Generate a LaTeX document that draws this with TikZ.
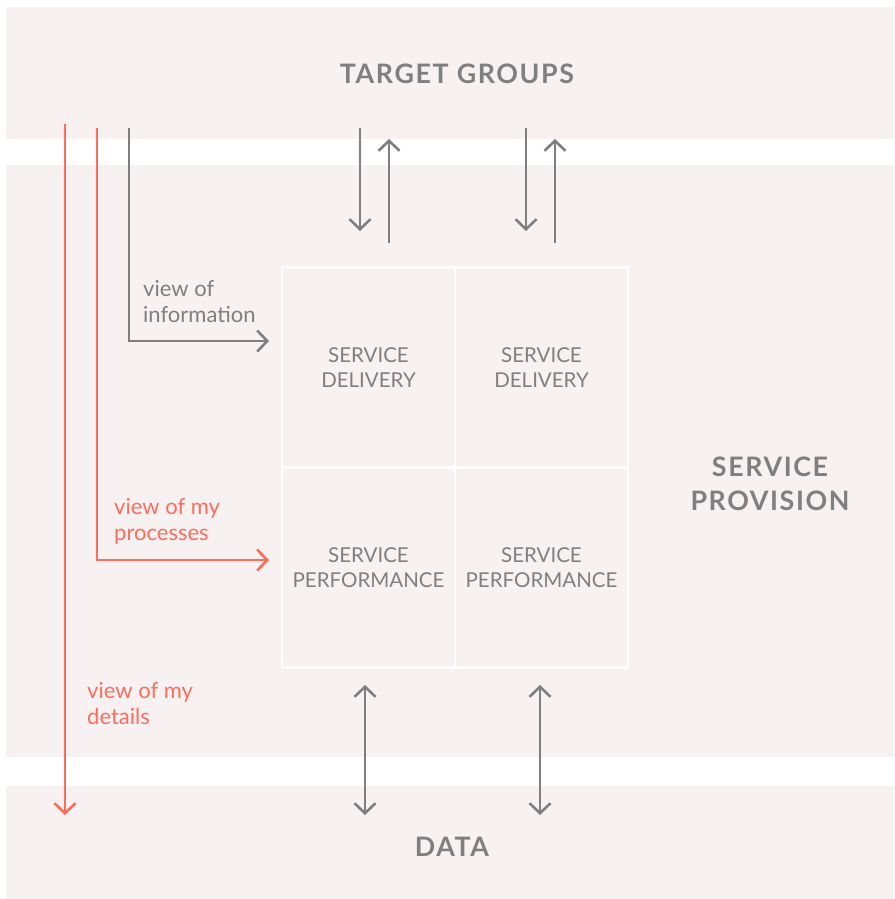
\documentclass[tikz,border=0pt]{standalone}
\usepackage{fontspec}
\setmainfont{Lato}
\newfontfamily\headfont{Lato}[LetterSpace=6]
\usetikzlibrary{arrows.meta}

\definecolor{bandbg}{HTML}{F7F1F1}
\definecolor{ink}{HTML}{7F7F82}
\definecolor{coral}{HTML}{FF6C5C}

\tikzset{
  band/.style={fill=bandbg, draw=none},
  title/.style={font=\headfont\bfseries\fontsize{26.8}{34}\selectfont, text=ink, align=center},
  cell/.style={draw=white, line width=2.5pt, fill=none, minimum width=173pt,
    minimum height=200pt, align=center, text=ink,
    font=\fontsize{20.5}{25}\selectfont, inner sep=0pt},
  flow/.style={draw=ink, line width=2.6pt, -{Straight Barb[length=10pt,width=21pt]}},
  flowboth/.style={draw=ink, line width=2.6pt,
    {Straight Barb[length=10pt,width=21pt]}-{Straight Barb[length=10pt,width=21pt]}},
  redflow/.style={draw=coral, line width=2.6pt, -{Straight Barb[length=10pt,width=21pt]}},
  lbl/.style={anchor=west, align=left, font=\fontsize{22}{26}\selectfont, inner sep=0pt},
}

\begin{document}
\begin{tikzpicture}[x=1pt,y=-1pt]
  \useasboundingbox (0,0) rectangle (894,899);

  % three horizontal bands
  \path[band] (6,7)   rectangle (894,139);
  \path[band] (6,165) rectangle (894,757);
  \path[band] (6,786) rectangle (894,899);

  % band titles
  \node[title] (tg) at (457,74) {TARGET GROUPS};
  \node[title] (sp) at (770,484) {SERVICE\\PROVISION};
  \node[title] (data) at (452,847) {DATA};

  % 2x2 service grid
  \node[cell] (c11) at (368.5,367.5) {SERVICE\\DELIVERY};
  \node[cell] (c12) at (541.5,367.5) {SERVICE\\DELIVERY};
  \node[cell] (c21) at (368.5,567.5) {SERVICE\\PERFORMANCE};
  \node[cell] (c22) at (541.5,567.5) {SERVICE\\PERFORMANCE};

  % end points of the connectors
  \coordinate (infoS) at (129,128);
  \coordinate (infoE) at (269,341);
  \coordinate (procS) at (97,128);
  \coordinate (procE) at (269,560);
  \coordinate (detS)  at (65,124);
  \coordinate (detE)  at (65,815);

  \coordinate (d1S) at (360,128);  \coordinate (d1E) at (360,231);
  \coordinate (u1S) at (389,243);  \coordinate (u1E) at (389,139);
  \coordinate (d2S) at (526,128);  \coordinate (d2E) at (526,231);
  \coordinate (u2S) at (555,243);  \coordinate (u2E) at (555,139);

  \coordinate (b1S) at (365,685);  \coordinate (b1E) at (365,815);
  \coordinate (b2S) at (540,685);  \coordinate (b2E) at (540,815);

  % views from the left
  \draw[flow] (infoS) |- (infoE);
  \draw[redflow] (procS) |- (procE);
  \draw[redflow] (detS) -- (detE);

  \node[lbl, text=ink]   (linfo) at (143,302) {view of\\information};
  \node[lbl, text=coral] (lproc) at (114,521.5) {view of my\\processes};
  \node[lbl, text=coral] (ldet)  at (87,703.5) {view of my\\details};

  % exchange with target groups
  \draw[flow] (d1S) -- (d1E);
  \draw[flow] (u1S) -- (u1E);
  \draw[flow] (d2S) -- (d2E);
  \draw[flow] (u2S) -- (u2E);

  % exchange with data
  \draw[flowboth] (b1S) -- (b1E);
  \draw[flowboth] (b2S) -- (b2E);
\end{tikzpicture}
\end{document}
